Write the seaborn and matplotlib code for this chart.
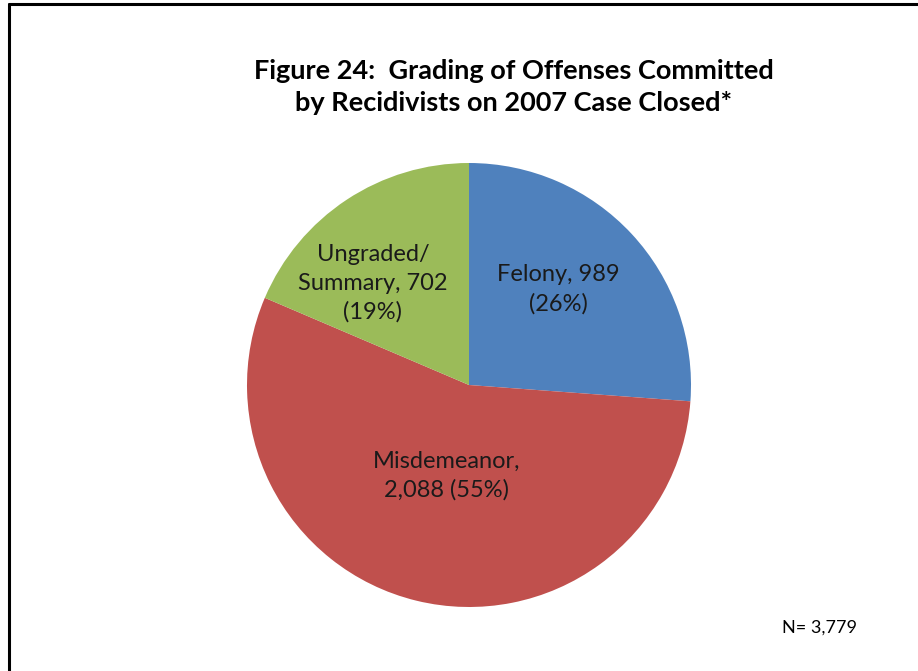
import numpy as np
import matplotlib
matplotlib.use("Agg")
import matplotlib.pyplot as plt
import seaborn as sns
from matplotlib.lines import Line2D

categories = ["Felony", "Misdemeanor", "Ungraded/\nSummary"]
values = [989, 2088, 702]
colors = ["#4F81BD", "#C0504D", "#9BBB59"]
title = "Figure 24:  Grading of Offenses Committed\nby Recidivists on 2007 Case Closed*"

sns.set_theme(style="white")
plt.rcParams['font.family'] = ['Lato', 'DejaVu Sans']

W, H = 918, 671
fig = plt.figure(figsize=(W / 100, H / 100), dpi=100)
ax = fig.add_axes([0, 0, 1, 1])

cx, cy, R = 469, H - 385, 222
total = sum(values)
wedges, _ = ax.pie(values, colors=colors, startangle=90, counterclock=False,
                   center=(cx, cy), radius=R, frame=True,
                   wedgeprops=dict(linewidth=0))
ax.set_xlim(0, W)
ax.set_ylim(0, H)
ax.axis("off")

def fmt(v):
    return f"{v:,}"

label_texts = [
    f"{categories[0]}, {fmt(values[0])}\n({round(values[0]/total*100)}%)",
    f"Misdemeanor,\n{fmt(values[1])} ({round(values[1]/total*100)}%)",
    f"{categories[2]}, {fmt(values[2])}\n({round(values[2]/total*100)}%)",
]
rfrac = [0.59, 0.42, 0.63]
angoff = [4, 0, 10]
for w, t, rf, ao in zip(wedges, label_texts, rfrac, angoff):
    mid = np.deg2rad((w.theta1 + w.theta2) / 2 + ao)
    x = cx + rf * R * np.cos(mid)
    y = cy + rf * R * np.sin(mid)
    ax.text(x, y, t, ha="center", va="center", fontsize=17,
            color="#1a1a1a", linespacing=1.45)

fig.text(514 / W, 1 - 87 / H, title, ha="center", va="center",
         fontsize=19.5, fontweight="bold", color="black", linespacing=1.4)
fig.text(819 / W, 1 - 628 / H, f"N= {fmt(total)}", ha="center", va="center",
         fontsize=13, color="black")

# frame
fig.add_artist(Line2D([9 / W, 9 / W], [0, 1 - 4 / H], color="black", lw=2.2,
                      transform=fig.transFigure))
fig.add_artist(Line2D([9 / W, 1], [1 - 4 / H, 1 - 4 / H], color="black", lw=2.2,
                      transform=fig.transFigure))

fig.savefig("out.png", dpi=100)
